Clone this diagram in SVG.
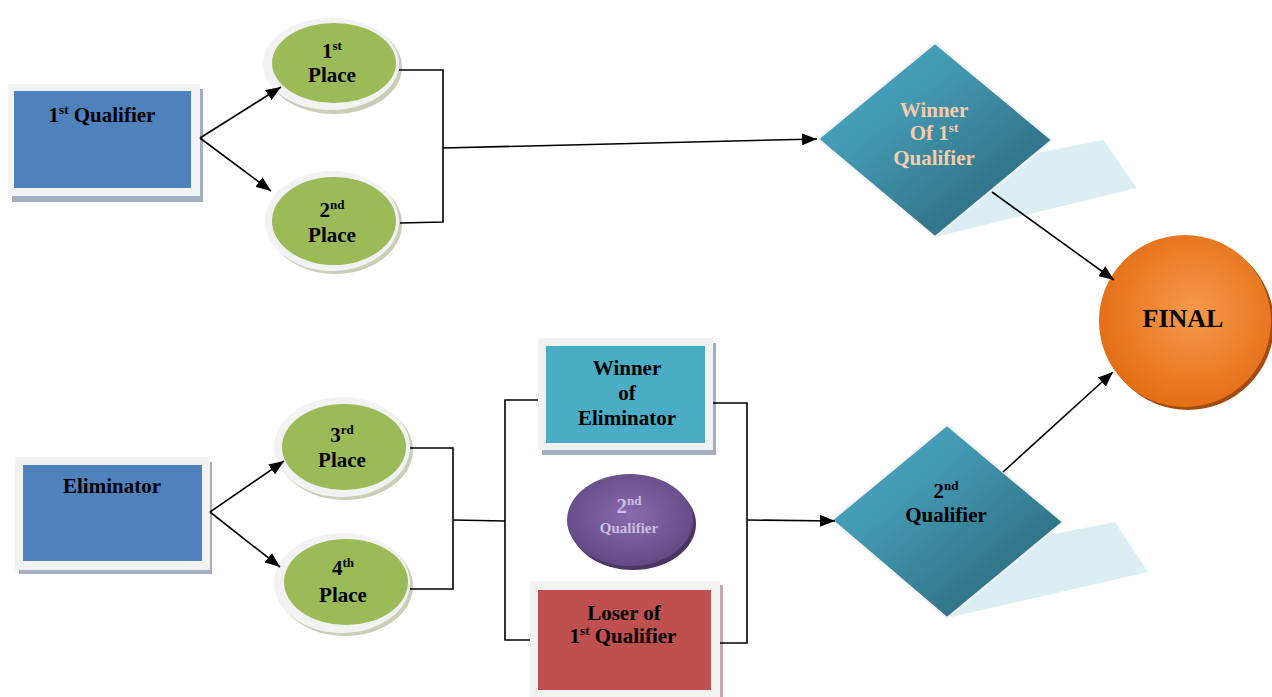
<svg xmlns="http://www.w3.org/2000/svg" width="1272" height="697" viewBox="0 0 1272 697">
<defs>
<style>
.t{font-family:"Liberation Serif","Times New Roman",serif;font-weight:bold;font-size:21px;fill:#000;text-anchor:middle}
.frame{fill:#f2f2f2}
.shadow{fill:#a3aec0}
.gshadow{fill:#c9cfb6}
.green{fill:#9bbb59}
.ln{fill:none;stroke:#000;stroke-width:1.6}
</style>
<marker id="ah" markerUnits="userSpaceOnUse" markerWidth="16" markerHeight="12" refX="15" refY="6" orient="auto">
<path d="M0,0 L15,6 L0,12 Z" fill="#000"/>
</marker>
<linearGradient id="dia" x1="0" y1="0" x2="1" y2="1">
<stop offset="0" stop-color="#4bacc6"/>
<stop offset="0.35" stop-color="#4298b1"/>
<stop offset="1" stop-color="#265f70"/>
</linearGradient>
<radialGradient id="fin" cx="0.55" cy="0.45" r="0.6">
<stop offset="0" stop-color="#f79a4c"/>
<stop offset="1" stop-color="#e26b12"/>
</radialGradient>
<radialGradient id="pur" cx="0.5" cy="0.45" r="0.6">
<stop offset="0" stop-color="#8a6ab0"/>
<stop offset="1" stop-color="#5f4780"/>
</radialGradient>
</defs>

<g id="q1">
<rect class="shadow" x="12" y="89" width="191" height="113"/>
<rect class="frame" x="8" y="84" width="192" height="112"/>
<rect x="14" y="91" width="177" height="97" fill="#4f81bd"/>
<text class="t" x="102" y="122">1<tspan font-size="13" dy="-8">st</tspan><tspan dy="8"> Qualifier</tspan></text>
</g>

<g id="place1">
<ellipse class="gshadow" cx="334" cy="67" rx="68" ry="47"/>
<ellipse class="frame" cx="331" cy="64" rx="68" ry="46"/>
<ellipse class="green" cx="334" cy="63" rx="62" ry="40"/>
<text class="t" x="332" y="58">1<tspan font-size="13" dy="-8">st</tspan></text>
<text class="t" x="332" y="82">Place</text>
</g>

<g id="place2">
<ellipse class="gshadow" cx="335" cy="224" rx="67" ry="50"/>
<ellipse class="frame" cx="332" cy="221" rx="67" ry="50"/>
<ellipse class="green" cx="334" cy="221" rx="62" ry="44"/>
<text class="t" x="332" y="217">2<tspan font-size="13" dy="-8">nd</tspan></text>
<text class="t" x="332" y="242">Place</text>
</g>

<g id="winner1q">
<polygon points="935,237 935,173 1103,140 1137,188" fill="#dbeef4"/>
<polygon points="935,43 1052,140 935,237 818,139" fill="url(#dia)" stroke="#f2f2f2" stroke-width="2"/>
<text class="t" x="934" y="117" style="fill:#f8cca8">Winner</text>
<text class="t" x="934" y="140" style="fill:#f8cca8">Of 1<tspan font-size="13" dy="-8">st</tspan></text>
<text class="t" x="934" y="165" style="fill:#f8cca8">Qualifier</text>
</g>

<g id="final">
<circle cx="1188" cy="324" r="86" fill="#a34a0c"/>
<circle cx="1185" cy="321" r="86" fill="url(#fin)"/>
<text class="t" x="1183" y="327" style="font-size:26px">FINAL</text>
</g>

<g id="elim">
<rect class="shadow" x="19" y="462" width="193" height="112"/>
<rect class="frame" x="15" y="457" width="195" height="113"/>
<rect x="23" y="465" width="179" height="96" fill="#4f81bd"/>
<text class="t" x="112" y="493">Eliminator</text>
</g>

<g id="place3">
<ellipse class="gshadow" cx="345" cy="450" rx="68" ry="50"/>
<ellipse class="frame" cx="342" cy="447" rx="68" ry="50"/>
<ellipse class="green" cx="344" cy="447" rx="62" ry="43"/>
<text class="t" x="342" y="442">3<tspan font-size="13" dy="-8">rd</tspan></text>
<text class="t" x="342" y="467">Place</text>
</g>

<g id="place4">
<ellipse class="gshadow" cx="345" cy="586" rx="68" ry="50"/>
<ellipse class="frame" cx="342" cy="583" rx="68" ry="50"/>
<ellipse class="green" cx="346" cy="582" rx="62" ry="43"/>
<text class="t" x="343" y="575">4<tspan font-size="13" dy="-8">th</tspan></text>
<text class="t" x="343" y="602">Place</text>
</g>

<g id="winelim">
<rect class="shadow" x="542" y="343" width="174" height="112"/>
<rect class="frame" x="538" y="338" width="175" height="112"/>
<rect x="546" y="346" width="159" height="97" fill="#4bacc6"/>
<text class="t" x="627" y="375">Winner</text>
<text class="t" x="627" y="400">of</text>
<text class="t" x="627" y="425">Eliminator</text>
</g>

<g id="q2label">
<ellipse cx="633" cy="524" rx="63" ry="46" fill="#4a3563"/>
<ellipse cx="630" cy="520" rx="63" ry="46" fill="url(#pur)"/>
<text class="t" x="629" y="513" style="fill:#c9bfe2">2<tspan font-size="13" dy="-8">nd</tspan></text>
<text class="t" x="629" y="533" style="fill:#c9bfe2;font-size:15px">Qualifier</text>
</g>

<g id="loser">
<rect x="534" y="585" width="189" height="112" fill="#c8a8a8"/>
<rect class="frame" x="530" y="581" width="190" height="116"/>
<rect x="538" y="590" width="173" height="100" fill="#c0504d"/>
<text class="t" x="624" y="620">Loser of</text>
<text class="t" x="623" y="643">1<tspan font-size="13" dy="-8">st</tspan><tspan dy="8"> Qualifier</tspan></text>
</g>

<g id="q2">
<polygon points="947,618 947,555 1115,522 1148,572" fill="#dbeef4"/>
<polygon points="947,425 1063,522 947,618 832,520" fill="url(#dia)" stroke="#f2f2f2" stroke-width="2"/>
<text class="t" x="946" y="498">2<tspan font-size="13" dy="-8">nd</tspan></text>
<text class="t" x="946" y="522">Qualifier</text>
</g>

<g id="connectors">
<polyline class="ln" points="399,70 443,70 443,222 400,223"/>
<line class="ln" x1="443" y1="148" x2="817" y2="139" marker-end="url(#ah)"/>
<line class="ln" x1="200" y1="138" x2="281" y2="87" marker-end="url(#ah)"/>
<line class="ln" x1="200" y1="138" x2="271" y2="191" marker-end="url(#ah)"/>
<line class="ln" x1="992" y1="192" x2="1114" y2="280" marker-end="url(#ah)"/>
<line class="ln" x1="1003" y1="472" x2="1113" y2="372" marker-end="url(#ah)"/>
<line class="ln" x1="210" y1="512" x2="284" y2="461" marker-end="url(#ah)"/>
<line class="ln" x1="210" y1="512" x2="280" y2="567" marker-end="url(#ah)"/>
<polyline class="ln" points="410,448 453,448 453,589 410,589"/>
<line class="ln" x1="453" y1="520" x2="505" y2="521"/>
<polyline class="ln" points="538,400 505,400 505,640 530,640"/>
<polyline class="ln" points="713,403 747,403 747,643 720,643"/>
<line class="ln" x1="747" y1="520" x2="835" y2="521" marker-end="url(#ah)"/>
</g>
</svg>
